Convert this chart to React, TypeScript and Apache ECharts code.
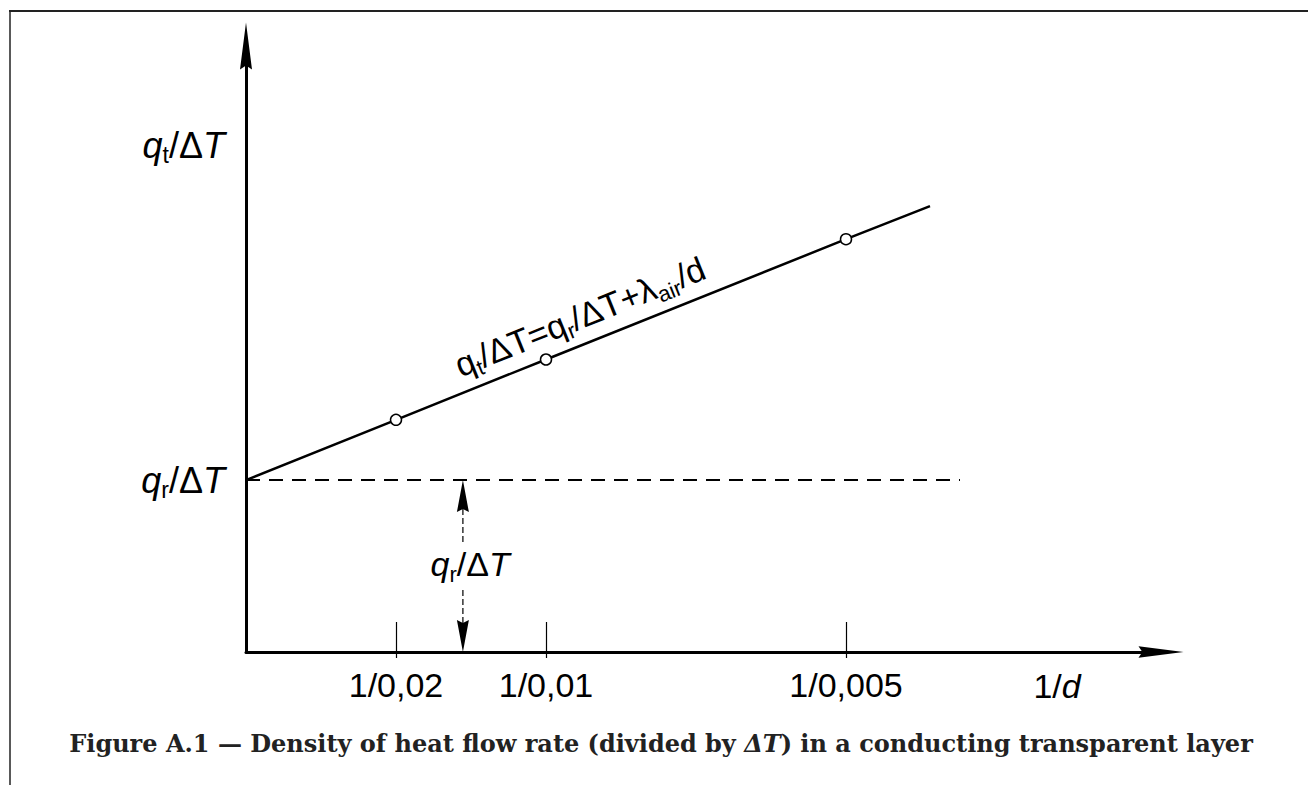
import React, { useEffect, useRef } from 'react';
import * as echarts from 'echarts';

// ---- data ----
const xTickValues = [50, 100, 200];
const xTickLabels = ['1/0,02', '1/0,01', '1/0,005'];
const yTickValues = [57.3, 169];
const yTickLabels = ['{i|q}{sub|r}/Δ{i|T}', '{i|q}{sub|t}/Δ{i|T}'];
const lineX = [0, 50, 100, 200, 228];
const lineY = [57.3, 77.4, 97.5, 137.6, 148.6];
const markedX = [50, 100, 200];
const qrValue = 57.3;
const dashedEndX = 238;
const xAxisName = '1/{i|d}';
const formulaText = 'q{sub|t}/ΔT=q{sub|r}/ΔT+λ{sub|air}/d';
const midLabelText = '{i|q}{sub|r}/Δ{i|T}';
const captionText = 'Figure A.1 — Density of heat flow rate (divided by {it|ΔT}) in a conducting transparent layer';

// ---- layout ----
const W = 1308;
const H = 785;
const X_MAX = 305;
const Y_MAX = 202;
const SANS = '"Liberation Sans", Arial, Helvetica, sans-serif';
const SERIF = '"DejaVu Serif", "Liberation Serif", serif';
const FS = 34;
const FSY = 36;
const CAP = 24;
const arrowUp = 'path://M6,0 L12,47 L6,43 L0,47 Z';

export default function App() {
  const ref = useRef<HTMLDivElement>(null);
  useEffect(() => {
    if (!ref.current) return;
    const chart = echarts.init(ref.current, null, { renderer: 'svg', width: W, height: H });
    const nearestIdx = (arr: number[], v: number) => {
      let b = 0;
      arr.forEach((a, i) => { if (Math.abs(a - v) < Math.abs(arr[b] - v)) b = i; });
      return b;
    };
    chart.setOption({
      animation: false,
      backgroundColor: '#fff',
      grid: { left: 246, top: 46, right: W - 246 - 915, bottom: H - 652 },
      xAxis: [
        {
          type: 'value', min: 0, max: X_MAX,
          splitLine: { show: false },
          axisLine: {
            show: true, onZero: false,
            lineStyle: { color: '#000', width: 3 },
            symbol: ['none', arrowUp], symbolSize: [12, 45],
          },
          axisTick: { show: true, inside: true, length: 30, customValues: xTickValues, lineStyle: { color: '#000', width: 1.2 } },
          axisLabel: {
            show: true, customValues: xTickValues, margin: 16,
            fontSize: FS, fontFamily: SANS, color: '#000',
            formatter: (v: number) => xTickLabels[nearestIdx(xTickValues, v)],
          },
        },
        {
          type: 'value', min: 0, max: X_MAX, position: 'bottom',
          splitLine: { show: false },
          axisLine: { show: false },
          axisTick: { show: true, inside: false, length: 6, customValues: xTickValues, lineStyle: { color: '#000', width: 1.2 } },
          axisLabel: { show: false },
        },
      ],
      yAxis: {
        type: 'value', min: 0, max: Y_MAX,
        splitLine: { show: false },
        axisLine: {
          show: true, onZero: false,
          lineStyle: { color: '#000', width: 3 },
          symbol: ['none', arrowUp], symbolSize: [13, 47],
        },
        axisTick: { show: false },
        axisLabel: {
          show: true, customValues: yTickValues, margin: 21,
          fontSize: FSY, fontFamily: SANS, color: '#000',
          formatter: (v: number) => yTickLabels[nearestIdx(yTickValues, v)],
          rich: {
            i: { fontStyle: 'italic', fontSize: FSY, fontFamily: SANS, color: '#000' },
            sub: { fontSize: 23, fontFamily: SANS, color: '#000', padding: [20, 0, 0, 0] },
          },
        },
      },
      series: [
        {
          type: 'line',
          data: lineX.map((x, i) => ({
            value: [x, lineY[i]],
            symbol: markedX.includes(x) ? 'circle' : 'none',
          })),
          symbolSize: 11,
          itemStyle: { color: '#fff', borderColor: '#000', borderWidth: 1.5 },
          lineStyle: { color: '#000', width: 2.5 },
          z: 5,
        },
        {
          type: 'line',
          data: [[0, qrValue], [dashedEndX, qrValue]],
          symbol: 'none',
          lineStyle: { color: '#000', width: 2, type: [14, 9] },
        },
      ],
    });

    const p = (x: number, y: number) => chart.convertToPixel({ seriesIndex: 0 }, [x, y]) as number[];
    const a = p(0, lineY[0]);
    const b = p(lineX[3], lineY[3]);
    const angle = Math.atan2(-(b[1] - a[1]), b[0] - a[0]);
    const fPos = p(111.3, 111.8);
    const tip1 = p(72.3, qrValue);
    const tip2 = p(72.3, 0);
    const midPos = p(74.7, 29.3);
    const lineTopEnd = p(72.3, 35.7);
    const lineBotStart = p(72.3, 20.7);
    const nameP = p(270, 0);
    const ax = tip1[0];
    const arrowW = 6;
    const arrowL = 32;

    chart.setOption({
      graphic: [
        { type: 'line', shape: { x1: 9, y1: 11, x2: W, y2: 11 }, style: { stroke: '#222', lineWidth: 2 } },
        { type: 'line', shape: { x1: 10, y1: 11, x2: 10, y2: H }, style: { stroke: '#222', lineWidth: 1.5 } },
        {
          type: 'text', x: fPos[0], y: fPos[1], rotation: angle,
          style: {
            text: formulaText, align: 'center', verticalAlign: 'middle',
            fontSize: FS, fontFamily: SANS, fill: '#000',
            rich: { sub: { fontSize: 22, fontFamily: SANS, fill: '#000', padding: [20, 0, 0, 0] } },
          },
        },
        {
          type: 'polygon',
          shape: { points: [[ax, tip1[1]], [ax + arrowW, tip1[1] + arrowL], [ax, tip1[1] + arrowL - 3], [ax - arrowW, tip1[1] + arrowL]] },
          style: { fill: '#000' },
        },
        {
          type: 'line', shape: { x1: ax, y1: tip1[1] + arrowL - 3, x2: ax, y2: lineTopEnd[1] },
          style: { stroke: '#000', lineWidth: 1.2, lineDash: [6, 3] },
        },
        {
          type: 'polygon',
          shape: { points: [[ax, tip2[1]], [ax + arrowW, tip2[1] - arrowL], [ax, tip2[1] - arrowL + 3], [ax - arrowW, tip2[1] - arrowL]] },
          style: { fill: '#000' },
        },
        {
          type: 'line', shape: { x1: ax, y1: lineBotStart[1], x2: ax, y2: tip2[1] - arrowL + 3 },
          style: { stroke: '#000', lineWidth: 1.2, lineDash: [6, 3] },
        },
        {
          type: 'text', x: midPos[0], y: midPos[1],
          style: {
            text: midLabelText, align: 'center', verticalAlign: 'middle',
            fontSize: FS, fontFamily: SANS, fill: '#000',
            rich: {
              i: { fontStyle: 'italic', fontSize: FS, fontFamily: SANS, fill: '#000' },
              sub: { fontSize: 22, fontFamily: SANS, fill: '#000', padding: [20, 0, 0, 0] },
            },
          },
        },
        {
          type: 'text', x: nameP[0] + 1, y: nameP[1] + 34,
          style: {
            text: xAxisName, align: 'center', verticalAlign: 'middle',
            fontSize: FS, fontFamily: SANS, fill: '#000',
            rich: { i: { fontStyle: 'italic', fontSize: FS, fontFamily: SANS, fill: '#000' } },
          },
        },
        {
          type: 'text', x: 661, y: 743,
          style: {
            text: captionText, align: 'center', verticalAlign: 'middle',
            fontSize: CAP, fontWeight: 'bold', fontFamily: SERIF, fill: '#222',
            rich: { it: { fontStyle: 'italic', fontWeight: 'bold', fontSize: CAP, fontFamily: SERIF, fill: '#222' } },
          },
        },
      ],
    });
    return () => chart.dispose();
  }, []);
  return <div ref={ref} style={{ position: 'fixed', left: 0, top: 0, width: W, height: H }} />;
}
